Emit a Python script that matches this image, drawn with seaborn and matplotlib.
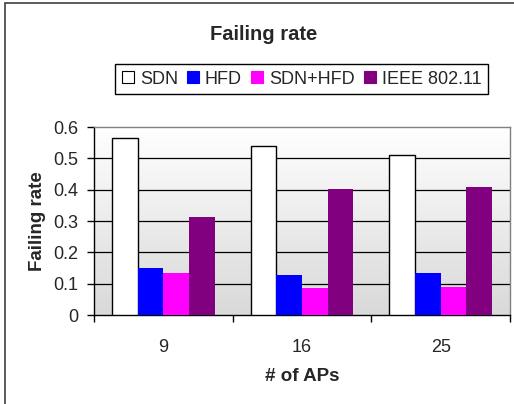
import numpy as np
import pandas as pd
import matplotlib
matplotlib.use("Agg")
import matplotlib.pyplot as plt
from matplotlib.lines import Line2D
from matplotlib.patches import Rectangle
from matplotlib.ticker import FixedLocator, FuncFormatter
import seaborn as sns

# data
aps = ["9", "16", "25"]
methods = ["SDN", "HFD", "SDN+HFD", "IEEE 802.11"]
sdn = [0.566, 0.540, 0.510]
hfd = [0.150, 0.129, 0.134]
sdn_hfd = [0.133, 0.086, 0.090]
ieee = [0.312, 0.402, 0.410]
colors = ["#ffffff", "#0000ff", "#ff00ff", "#800080"]

rows = []
for m, vals in zip(methods, [sdn, hfd, sdn_hfd, ieee]):
    for a, v in zip(aps, vals):
        rows.append({"aps": a, "method": m, "rate": v})
df = pd.DataFrame(rows)

sns.set_style("white")
plt.rcParams["font.family"] = ["Liberation Sans", "DejaVu Sans"]

fig = plt.figure(figsize=(5.14, 4.04), dpi=100)
ax = fig.add_axes([94 / 514, 1 - 315 / 404, 416 / 514, 188 / 404])

# grey gradient background like the excel plot area
grad = np.linspace(0, 1, 256).reshape(-1, 1)
bg = matplotlib.colors.LinearSegmentedColormap.from_list("bg", ["#ffffff", "#d9d9d9"])
ax.imshow(grad, cmap=bg, aspect="auto", extent=[0, 1, 0, 1],
          transform=ax.transAxes, zorder=0)

sns.barplot(data=df, x="aps", y="rate", hue="method", order=aps,
            hue_order=methods, palette=colors, saturation=1, width=0.74, gap=0,
            legend=False, ax=ax, zorder=3)
for i, bars in enumerate(ax.containers):
    for b in bars:
        if i == 0:
            b.set_edgecolor("black")
            b.set_linewidth(1.0)
        else:
            b.set_edgecolor("none")

ax.set_xlim(-0.5, 2.5)
ax.set_ylim(0, 0.6)
ax.set_yticks(np.arange(0, 0.61, 0.1))
ax.yaxis.set_major_formatter(FuncFormatter(lambda v, p: "0" if v == 0 else f"{v:.1f}"))
for y in np.arange(0.1, 0.55, 0.1):
    ax.axhline(y, color="#000000", lw=0.9, zorder=1)

ax.tick_params(axis="y", which="major", direction="out", length=5, width=1,
               pad=6, labelsize=13, left=True, color="black")
ax.tick_params(axis="x", which="major", length=0, pad=17, labelsize=13)
ax.xaxis.set_minor_locator(FixedLocator([-0.5, 0.5, 1.5, 2.5]))
ax.tick_params(axis="x", which="minor", direction="out", length=5, width=1,
               bottom=True, color="black")

for s in ["left", "bottom"]:
    ax.spines[s].set_color("black")
    ax.spines[s].set_linewidth(1)
for s in ["top", "right"]:
    ax.spines[s].set_color("#808080")
    ax.spines[s].set_linewidth(1)

ax.set_xlabel("# of APs", fontsize=13.5, fontweight="bold")
ax.set_ylabel("Failing rate", fontsize=13.5, fontweight="bold")
ax.xaxis.set_label_coords(0.5, -0.28)
ax.yaxis.set_label_coords(-0.115, 0.5)

fig.text(264 / 514, 1 - 39.5 / 404, "Failing rate", ha="center", va="baseline",
         fontsize=14.5, fontweight="bold")

handles = []
for m, c in zip(methods, colors):
    handles.append(Line2D([], [], linestyle="none", marker="s", markersize=8.5,
                          markerfacecolor=c,
                          markeredgecolor="black" if c == "#ffffff" else c,
                          markeredgewidth=0.8, label=m))
leg = fig.legend(handles=handles, loc="center", bbox_to_anchor=(301.5 / 514, 1 - 79 / 404),
                 ncol=4, fontsize=13, frameon=True, fancybox=False, edgecolor="black",
                 framealpha=1, handlelength=0.7, handletextpad=0.3,
                 columnspacing=0.5, borderpad=0.35)
leg.get_frame().set_linewidth(1)

# outer chart border
fig.patches.append(Rectangle((5 / 514, -0.05), 1.2, 1 - 3 / 404 + 0.05,
                             transform=fig.transFigure, fill=False,
                             edgecolor="#404040", linewidth=1.2))

plt.savefig("out.png", dpi=100)
